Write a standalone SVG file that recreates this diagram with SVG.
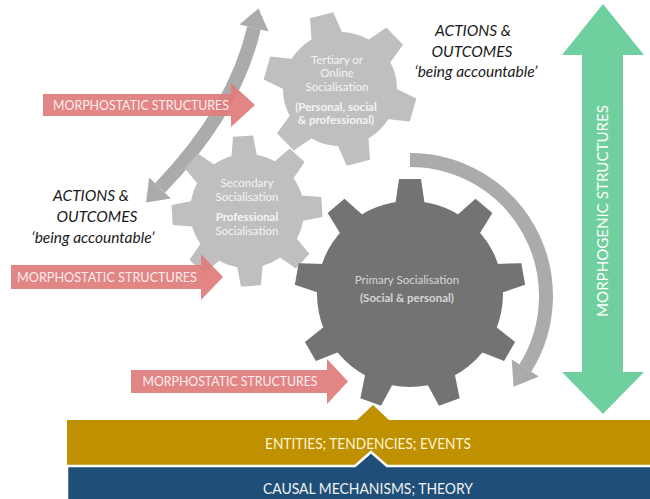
<svg xmlns="http://www.w3.org/2000/svg" width="650" height="499" viewBox="0 0 650 499">
<defs>
<style>
text{font-family:Lato,'Open Sans','Liberation Sans',sans-serif}
.pa{fill:#E07B7B;fill-opacity:.92}
.pt{fill:#FDEDED;font-size:13px;text-anchor:middle}
.act{font-style:italic;font-size:15.5px;fill:#1a1a1a;text-anchor:middle}
.gl{fill:#BFBFBF}
.gd{fill:#737373}
.gt{font-size:11.5px;text-anchor:middle;fill:#F5F5F5}
.gp{font-size:11.5px;text-anchor:middle;fill:#D6D6D6}
.b{font-weight:bold}
.arc{fill:none;stroke:#ABABAB;stroke-width:14}
.arch{fill:#ABABAB}
.bt{font-size:15.5px;text-anchor:middle}
</style>
<polygon id="tP" points="-15,-88 15,-88 11,-115 -11,-115"/>
<polygon id="tS" points="-13,-53 13,-53 10,-75 -10,-75"/>
<polygon id="tT" points="-16,-53 16,-53 12,-76 -12,-76"/>
</defs>
<rect width="650" height="499" fill="#FFFFFF"/>

<g id="base-bars">
<path d="M67 420 H357 L373 405 L389 420 H652 V467 H67 Z" fill="#BF9000"/>
<path d="M67 466 H355 L371 452 L387 466 H653 V503 H67 Z" fill="#1F4E79" stroke="#FFFFFF" stroke-width="2.5"/>
<text class="bt" x="368" y="449" fill="#FFF4D6" textLength="206" lengthAdjust="spacingAndGlyphs">ENTITIES; TENDENCIES; EVENTS</text>
<text class="bt" x="368" y="494" fill="#F2F2F2" textLength="210" lengthAdjust="spacingAndGlyphs">CAUSAL MECHANISMS; THEORY</text>
</g>

<g id="connectors">
<path class="arc" d="M160 188 Q235 110 254 28"/>
<polygon class="arch" points="258.5,8.5 268.6,31.4 239.4,24.6"/>
<polygon class="arch" points="146.1,202.4 170.8,198.4 149.2,177.6"/>
<path class="arc" d="M410 160 A136 136 0 0 1 525.3 368.1"/>
<polygon class="arch" points="513.6,386.8 538.9,376.6 511.7,359.6"/>
</g>

<g id="gear-tertiary">
<g class="gl" transform="translate(340,89)">
<circle r="57"/>
<use href="#tT" transform="rotate(-14)"/>
<use href="#tT" transform="rotate(46)"/>
<use href="#tT" transform="rotate(106)"/>
<use href="#tT" transform="rotate(166)"/>
<use href="#tT" transform="rotate(226)"/>
<use href="#tT" transform="rotate(286)"/>
</g>
<text class="gt" x="337" y="64">Tertiary or</text>
<text class="gt" x="337" y="77">Online</text>
<text class="gt" x="337" y="91">Socialisation</text>
<text class="gt b" x="336" y="111">(Personal, social</text>
<text class="gt b" x="336" y="124">&amp; professional)</text>
</g>

<g id="gear-secondary">
<g class="gl" transform="translate(247,211) rotate(-3)">
<circle r="57"/>
<use href="#tS"/>
<use href="#tS" transform="rotate(45)"/>
<use href="#tS" transform="rotate(90)"/>
<use href="#tS" transform="rotate(135)"/>
<use href="#tS" transform="rotate(180)"/>
<use href="#tS" transform="rotate(225)"/>
<use href="#tS" transform="rotate(270)"/>
<use href="#tS" transform="rotate(315)"/>
</g>
<text class="gt" x="247" y="187">Secondary</text>
<text class="gt" x="247" y="201">Socialisation</text>
<text class="gt b" x="247" y="221">Professional</text>
<text class="gt" x="247" y="235">Socialisation</text>
</g>

<g id="gear-primary">
<g class="gd" transform="translate(410,294)">
<circle r="93"/>
<use href="#tP"/>
<use href="#tP" transform="rotate(40)"/>
<use href="#tP" transform="rotate(80)"/>
<use href="#tP" transform="rotate(120)"/>
<use href="#tP" transform="rotate(160)"/>
<use href="#tP" transform="rotate(200)"/>
<use href="#tP" transform="rotate(240)"/>
<use href="#tP" transform="rotate(280)"/>
<use href="#tP" transform="rotate(320)"/>
</g>
<text class="gp" x="407" y="284">Primary Socialisation</text>
<text class="gp b" x="407" y="302" fill="#EDEDED">(Social &amp; personal)</text>
</g>

<g id="morphostatic-1">
<polygon class="pa" points="43,94 231,94 231,83 255,105 231,127 231,116 43,116"/>
<text class="pt" x="141" y="110" textLength="176" lengthAdjust="spacingAndGlyphs">MORPHOSTATIC STRUCTURES</text>
</g>
<g id="morphostatic-2">
<polygon class="pa" points="11,265 201,265 201,254 223,277 201,300 201,289 11,289"/>
<text class="pt" x="107" y="282" textLength="180" lengthAdjust="spacingAndGlyphs">MORPHOSTATIC STRUCTURES</text>
</g>
<g id="morphostatic-3">
<polygon class="pa" points="131,370 327,370 327,359 348,381.5 327,404 327,393 131,393"/>
<text class="pt" x="230" y="386" textLength="175" lengthAdjust="spacingAndGlyphs">MORPHOSTATIC STRUCTURES</text>
</g>

<g id="morphogenic">
<polygon points="603,4 644,55 623,55 623,372 644,372 603,414 562,372 582,372 582,55 562,55" fill="#6FCF9E"/>
<text transform="translate(608,211) rotate(-90)" font-size="15.5" fill="#FFFFFF" text-anchor="middle" textLength="212" lengthAdjust="spacingAndGlyphs">MORPHOGENIC STRUCTURES</text>
</g>

<g id="actions-top">
<text class="act" x="473" y="36">ACTIONS &amp;</text>
<text class="act" x="472" y="57">OUTCOMES</text>
<text class="act" x="476" y="77">‘being accountable’</text>
</g>
<g id="actions-left">
<text class="act" x="91" y="201">ACTIONS &amp;</text>
<text class="act" x="97" y="222">OUTCOMES</text>
<text class="act" x="93" y="243">‘being accountable’</text>
</g>
</svg>
